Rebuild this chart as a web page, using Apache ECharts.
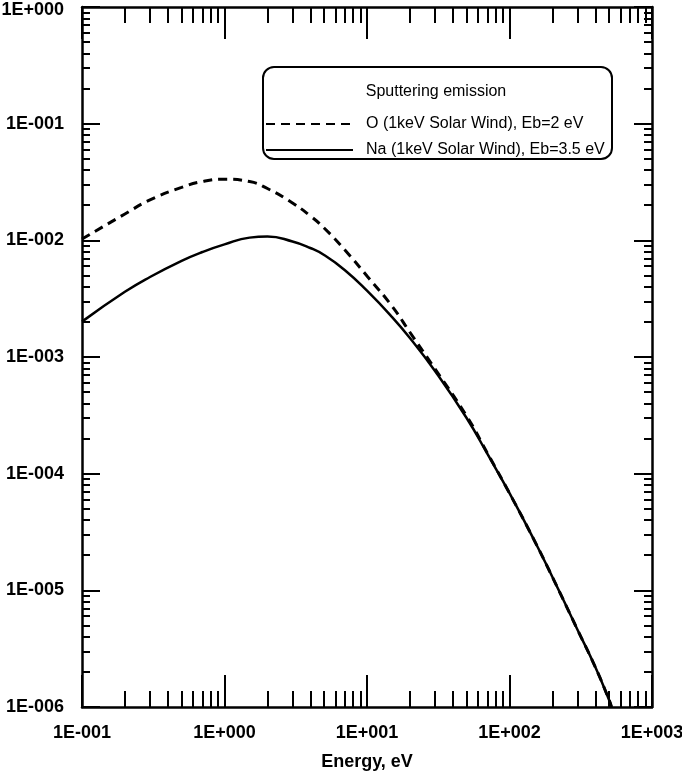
<!DOCTYPE html>
<html>
<head>
<meta charset="utf-8">
<script src="https://cdn.jsdelivr.net/npm/echarts@6/dist/echarts.min.js"></script>
<style>
  html, body { margin: 0; padding: 0; background: #fff; }
  #chart { width: 682px; height: 775px; }
</style>
</head>
<body>
<div id="chart"></div>
<script>
// energy grid (eV)
const energy = [0.1, 0.2, 0.3, 0.5, 0.7, 1, 1.5, 2, 3, 4, 5, 7, 10, 15, 20, 30, 50, 70, 100, 150, 200, 300, 400, 500, 520];

// O (1keV Solar Wind), Eb=2 eV  -- dashed
const oFlux = [1.026e-2, 1.682e-2, 2.22e-2, 2.84e-2, 3.19e-2, 3.34e-2, 3.19e-2, 2.78e-2, 2.09e-2, 1.62e-2, 1.276e-2, 8.26e-3, 4.95e-3, 2.72e-3, 1.63e-3, 7.9e-4, 3.12e-4, 1.5e-4, 6.8e-5, 2.65e-5, 1.3e-5, 4.6e-6, 2.2e-6, 1.15e-6, 1.0e-6];

// Na (1keV Solar Wind), Eb=3.5 eV  -- solid
const naFlux = [2.01e-3, 3.62e-3, 4.85e-3, 6.67e-3, 7.94e-3, 9.23e-3, 1.055e-2, 1.079e-2, 9.77e-3, 8.6e-3, 7.49e-3, 5.55e-3, 3.7e-3, 2.2e-3, 1.455e-3, 7.59e-4, 3.0e-4, 1.475e-4, 6.8e-5, 2.65e-5, 1.3e-5, 4.6e-6, 2.2e-6, 1.15e-6, 1.0e-6];

const seriesNames = ["O (1keV Solar Wind), Eb=2 eV", "Na (1keV Solar Wind), Eb=3.5 eV"];
const legendTitle = "Sputtering emission";
const xTickLabels = ["1E-001", "1E+000", "1E+001", "1E+002", "1E+003"];
const yTickLabels = ["1E-006", "1E-005", "1E-004", "1E-003", "1E-002", "1E-001", "1E+000"];

const xMinExp = -1, xMaxExp = 3;
const yMinExp = -6, yMaxExp = 0;

// minor ticks at 2..9 x 10^k, in log10 units
function minorTicks(from, to) {
  let out = [];
  for (let k = from; k < to; k++) {
    for (let m = 2; m <= 9; m++) out.push(k + Math.log10(m));
  }
  return out;
}

const labelFont = {
  color: "#000",
  fontFamily: "Liberation Sans",
  fontWeight: "bold",
  fontSize: 18
};

const tickLine = { color: "#000", width: 2 };
const box = { left: 82, top: 7, width: 570, height: 700, outerBoundsMode: "none" };

var chart = echarts.init(document.getElementById("chart"));

chart.setOption({
  animation: false,
  backgroundColor: "#fff",
  grid: [
    Object.assign({}, box),
    Object.assign({}, box),
    Object.assign({}, box),
    Object.assign({}, box)
  ],
  legend: {
    left: 265,
    top: 116,
    orient: "vertical",
    padding: 0,
    itemWidth: 87,
    itemHeight: 14,
    itemGap: 10,
    selectedMode: false,
    z: 10,
    itemStyle: { opacity: 0 },
    textStyle: {
      color: "#000",
      fontFamily: "Liberation Sans",
      fontSize: 16,
      padding: [0, 0, 0, 8]
    },
    data: seriesNames
  },
  graphic: [
    {
      type: "rect",
      z: 5,
      shape: { x: 263, y: 67, width: 349, height: 92, r: 11 },
      style: { fill: "#fff", stroke: "#000", lineWidth: 2 }
    },
    {
      type: "text",
      z: 6,
      x: 436,
      y: 92,
      style: {
        text: legendTitle,
        fill: "#000",
        font: '16px "Liberation Sans"',
        textAlign: "center",
        textVerticalAlign: "middle"
      }
    }
  ],
  xAxis: [
    {
      type: "log",
      gridIndex: 0,
      position: "bottom",
      min: Math.pow(10, xMinExp),
      max: Math.pow(10, xMaxExp),
      name: "Energy, eV",
      nameLocation: "middle",
      nameGap: 46,
      nameTextStyle: labelFont,
      axisLine: { onZero: false, lineStyle: { color: "#000", width: 2.5 } },
      axisTick: { inside: true, length: 32, lineStyle: tickLine },
      axisLabel: Object.assign({
        margin: 17,
        showMinLabel: true,
        showMaxLabel: true,
        formatter: v => xTickLabels[Math.round(Math.log10(v)) - xMinExp]
      }, labelFont),
      splitLine: { show: false }
    },
    {
      type: "value",
      gridIndex: 1,
      position: "bottom",
      min: xMinExp,
      max: xMaxExp,
      axisLine: { show: false, onZero: false },
      axisTick: { inside: true, length: 16, customValues: minorTicks(xMinExp, xMaxExp), lineStyle: tickLine },
      axisLabel: { show: false },
      splitLine: { show: false }
    },
    {
      type: "log",
      gridIndex: 2,
      position: "top",
      min: Math.pow(10, xMinExp),
      max: Math.pow(10, xMaxExp),
      axisLine: { onZero: false, lineStyle: { color: "#000", width: 2.5 } },
      axisTick: { inside: true, length: 32, lineStyle: tickLine },
      axisLabel: { show: false },
      splitLine: { show: false }
    },
    {
      type: "value",
      gridIndex: 3,
      position: "top",
      min: xMinExp,
      max: xMaxExp,
      axisLine: { show: false, onZero: false },
      axisTick: { inside: true, length: 16, customValues: minorTicks(xMinExp, xMaxExp), lineStyle: tickLine },
      axisLabel: { show: false },
      splitLine: { show: false }
    }
  ],
  yAxis: [
    {
      type: "log",
      gridIndex: 0,
      position: "left",
      min: Math.pow(10, yMinExp),
      max: Math.pow(10, yMaxExp),
      axisLine: { onZero: false, lineStyle: { color: "#000", width: 2.5 } },
      axisTick: { inside: true, length: 18, lineStyle: tickLine },
      axisLabel: Object.assign({
        margin: 18,
        showMinLabel: true,
        showMaxLabel: true,
        formatter: v => {
          const idx = Math.round(Math.log10(v)) - yMinExp;
          // top label sits a little lower so it is not cut by the page edge
          return idx === yTickLabels.length - 1 ? "{top|" + yTickLabels[idx] + "}" : yTickLabels[idx];
        },
        rich: {
          top: Object.assign({ padding: [6, 0, 0, 0] }, labelFont)
        }
      }, labelFont),
      splitLine: { show: false }
    },
    {
      type: "value",
      gridIndex: 1,
      position: "left",
      min: yMinExp,
      max: yMaxExp,
      axisLine: { show: false, onZero: false },
      axisTick: { inside: true, length: 8, customValues: minorTicks(yMinExp, yMaxExp), lineStyle: tickLine },
      axisLabel: { show: false },
      splitLine: { show: false }
    },
    {
      type: "log",
      gridIndex: 2,
      position: "right",
      min: Math.pow(10, yMinExp),
      max: Math.pow(10, yMaxExp),
      axisLine: { onZero: false, lineStyle: { color: "#000", width: 2.5 } },
      axisTick: { inside: true, length: 18, lineStyle: tickLine },
      axisLabel: { show: false },
      splitLine: { show: false }
    },
    {
      type: "value",
      gridIndex: 3,
      position: "right",
      min: yMinExp,
      max: yMaxExp,
      axisLine: { show: false, onZero: false },
      axisTick: { inside: true, length: 8, customValues: minorTicks(yMinExp, yMaxExp), lineStyle: tickLine },
      axisLabel: { show: false },
      splitLine: { show: false }
    }
  ],
  series: [
    {
      name: seriesNames[0],
      type: "line",
      xAxisIndex: 0,
      yAxisIndex: 0,
      symbol: "none",
      smooth: 0.5,
      color: "#000",
      lineStyle: { color: "#000", width: 3, type: [9, 6] },
      data: energy.map((e, i) => [e, oFlux[i]])
    },
    {
      name: seriesNames[1],
      type: "line",
      xAxisIndex: 0,
      yAxisIndex: 0,
      symbol: "none",
      smooth: 0.5,
      color: "#000",
      lineStyle: { color: "#000", width: 2.5, type: "solid" },
      data: energy.map((e, i) => [e, naFlux[i]])
    }
  ]
});
</script>
</body>
</html>
